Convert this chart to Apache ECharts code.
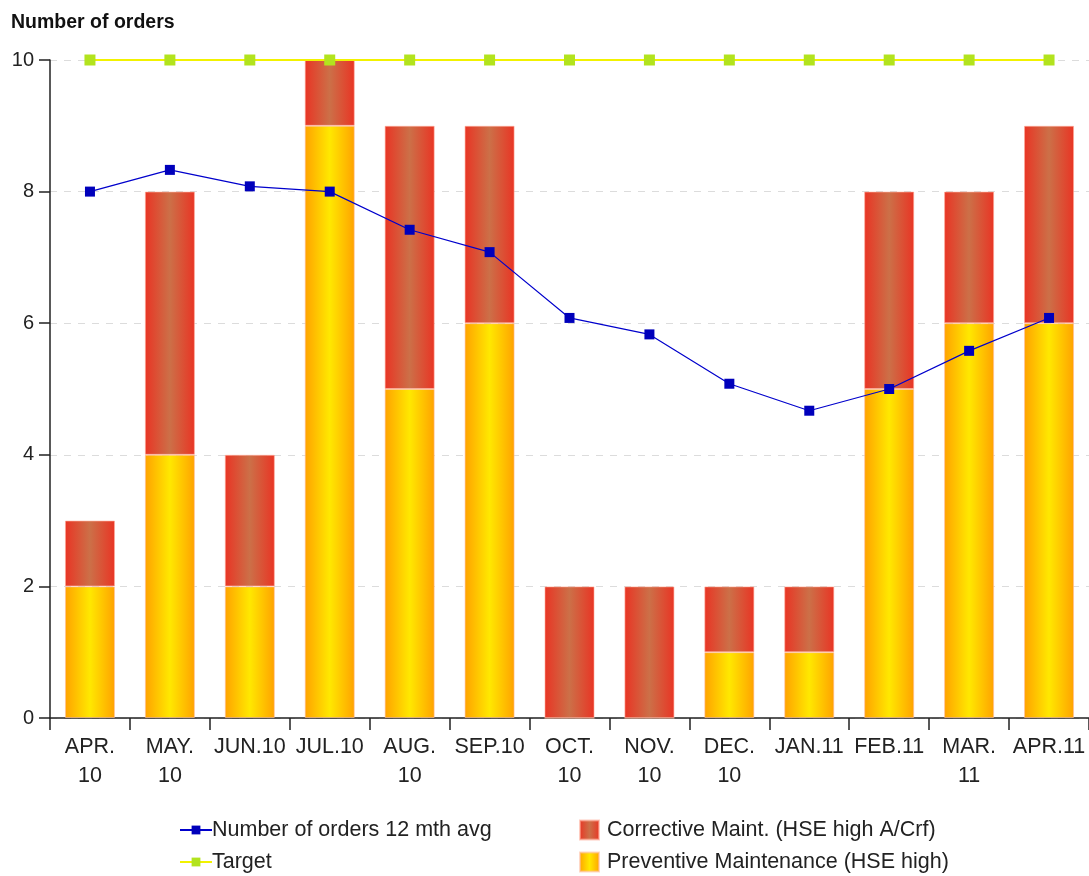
<!DOCTYPE html>
<html>
<head>
<meta charset="utf-8">
<script src="https://cdn.jsdelivr.net/npm/echarts@6/dist/echarts.min.js"></script>
<style>
  html, body { margin: 0; padding: 0; background: #fff; }
  #chart { width: 1089px; height: 876px; }
</style>
</head>
<body>
<div id="chart"></div>
<script>
// Monthly order counts, April 2010 - April 2011
const months = ['APR.\n10', 'MAY.\n10', 'JUN.10', 'JUL.10', 'AUG.\n10', 'SEP.10', 'OCT.\n10',
                'NOV.\n10', 'DEC.\n10', 'JAN.11', 'FEB.11', 'MAR.\n11', 'APR.11'];
const preventive = [2, 4, 2, 9, 5, 6, 0, 0, 1, 1, 5, 6, 6];
const corrective = [1, 4, 2, 1, 4, 3, 2, 2, 1, 1, 3, 2, 3];
const avg12 = [8.0, 8.33, 8.08, 8.0, 7.42, 7.08, 6.08, 5.83, 5.08, 4.67, 5.0, 5.58, 6.08];
const target = [10, 10, 10, 10, 10, 10, 10, 10, 10, 10, 10, 10, 10];
const yTicks = [0, 2, 4, 6, 8, 10];

const font = 'Liberation Sans, Arial, sans-serif';

function hGrad(edge, mid) {
  return new echarts.graphic.LinearGradient(0, 0, 1, 0, [
    { offset: 0, color: edge },
    { offset: 0.5, color: mid },
    { offset: 1, color: edge }
  ]);
}

const chart = echarts.init(document.getElementById('chart'), null, { renderer: 'canvas' });

const legendText = { fontFamily: font, fontSize: 21.5, color: '#222' };

chart.setOption({
  backgroundColor: '#ffffff',
  animation: false,
  title: {
    text: 'Number of orders',
    left: 11,
    top: 13,
    padding: 0,
    textStyle: { fontFamily: font, fontSize: 19.5, fontWeight: 'bold', color: '#111' }
  },
  legend: [
    {
      orient: 'vertical',
      left: 179,
      top: 819,
      padding: 0,
      itemGap: 10,
      itemWidth: 32,
      itemHeight: 11,
      data: ['Number of orders 12 mth avg', 'Target'],
      textStyle: Object.assign({ padding: [0, 0, 0, -5] }, legendText)
    },
    {
      orient: 'vertical',
      left: 579,
      top: 819,
      padding: 0,
      itemGap: 10,
      itemWidth: 19,
      itemHeight: 19,
      icon: 'rect',
      data: ['Corrective Maint. (HSE high A/Crf)', 'Preventive Maintenance (HSE high)'],
      textStyle: Object.assign({ padding: [0, 0, 0, 3] }, legendText)
    }
  ],
  grid: { left: 50, top: 60, width: 1040, height: 658, containLabel: false },
  xAxis: {
    type: 'category',
    data: months,
    boundaryGap: true,
    axisLine: { lineStyle: { color: '#222', width: 1.5 } },
    axisTick: { show: true, length: 12, lineStyle: { color: '#222', width: 1.5 } },
    axisLabel: {
      fontFamily: font, fontSize: 21.5, color: '#222', margin: 15, lineHeight: 29, interval: 0
    }
  },
  yAxis: {
    type: 'value',
    min: yTicks[0],
    max: yTicks[yTicks.length - 1],
    interval: 2,
    axisLine: { show: true, lineStyle: { color: '#222', width: 1.5 } },
    axisTick: { show: true, length: 11, lineStyle: { color: '#222', width: 1.5 } },
    axisLabel: { fontFamily: font, fontSize: 20, color: '#222', margin: 16 },
    splitLine: { show: true, lineStyle: { color: '#dcdcdc', type: [7, 7], width: 1 } }
  },
  series: [
    {
      name: 'Preventive Maintenance (HSE high)',
      type: 'bar',
      stack: 'orders',
      barWidth: 50,
      data: preventive,
      itemStyle: {
        color: hGrad('#FFA200', '#FFE800'),
        borderColor: 'rgba(255,190,160,0.6)',
        borderWidth: 1
      },
      z: 2
    },
    {
      name: 'Corrective Maint. (HSE high A/Crf)',
      type: 'bar',
      stack: 'orders',
      barWidth: 50,
      data: corrective,
      itemStyle: {
        color: hGrad('#E93424', '#CC7048'),
        borderColor: 'rgba(255,170,150,0.6)',
        borderWidth: 1
      },
      z: 2
    },
    {
      name: 'Number of orders 12 mth avg',
      type: 'line',
      data: avg12,
      symbol: 'rect',
      symbolSize: 10,
      color: '#0000BB',
      lineStyle: { color: '#0000CC', width: 1.2 },
      itemStyle: { color: '#0000BB' },
      z: 5
    },
    {
      name: 'Target',
      type: 'line',
      data: target,
      symbol: 'rect',
      symbolSize: 11,
      color: '#B2E31E',
      lineStyle: { color: '#F2F200', width: 2 },
      itemStyle: { color: '#B2E31E' },
      z: 4
    }
  ]
});
</script>
</body>
</html>
